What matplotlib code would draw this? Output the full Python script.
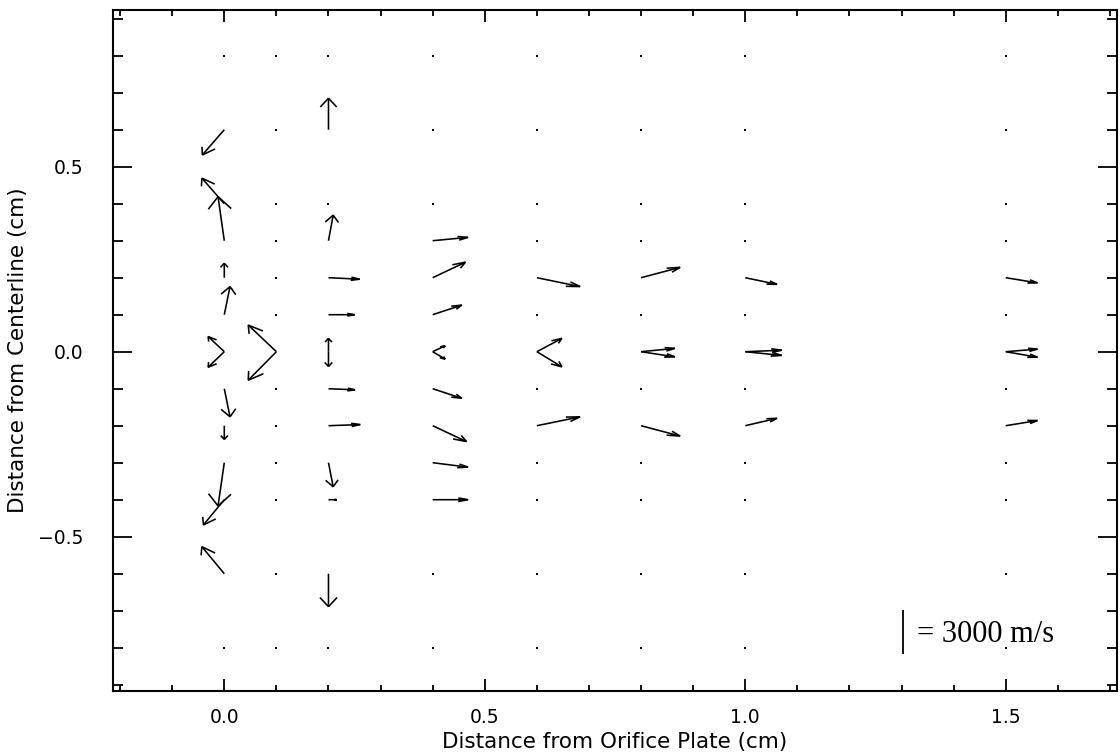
import numpy as np
import matplotlib
matplotlib.use("Agg")
import matplotlib.pyplot as plt
from matplotlib.collections import LineCollection
from matplotlib.ticker import FixedLocator, MultipleLocator, FuncFormatter

# ---------------- data ----------------
# measurement grid (cm)
x_grid = [0.0, 0.1, 0.2, 0.4, 0.6, 0.8, 1.0, 1.5]
y_grid = [-0.8, -0.6, -0.4, -0.3, -0.2, -0.1, 0.0, 0.1, 0.2, 0.3, 0.4, 0.6, 0.8]

# measured velocity vectors (m/s); centerline points carry two vectors
vec_x = ([0.0] * 12 + [0.1] * 2 + [0.2] * 11 + [0.4] * 9
         + [0.6] * 4 + [0.8] * 4 + [1.0] * 4 + [1.5] * 4)
vec_y = ([0.6, 0.4, 0.3, 0.2, 0.1, 0.0, 0.0, -0.1, -0.2, -0.3, -0.4, -0.6]
         + [0.0, 0.0]
         + [0.6, 0.3, 0.2, 0.1, 0.0, 0.0, -0.1, -0.2, -0.3, -0.4, -0.6]
         + [0.3, 0.2, 0.1, 0.0, 0.0, -0.1, -0.2, -0.3, -0.4]
         + [0.2, 0.0, 0.0, -0.2] * 4)
vec_u = ([-1050, -1075, -300, 0, 275, -775, -775, 275, 0, -300, -1000, -1075]
         + [-1350, -1350]
         + [0, 225, 1500, 1250, 0, 0, 1275, 1525, 225, 400, 0]
         + [1700, 1575, 1400, 600, 600, 1400, 1625, 1700, 1700]
         + [2075, 1200, 1200, 2075]
         + [1875, 1625, 1625, 1875]
         + [1525, 1750, 1750, 1525]
         + [1525, 1525, 1525, 1525])
vec_v = ([-1700, 1725, 2975, 975, 1900, 1025, -1050, -1900, -925, -2925, -1700, 1825]
         + [1800, -1925]
         + [2125, 1725, -100, 0, 900, -1000, -75, 75, -1625, 0, -2225]
         + [225, 1050, 650, 400, -500, -650, -1075, -300, 0]
         + [-600, 900, -1025, 600]
         + [700, 225, -350, -700]
         + [-450, 100, -250, 500]
         + [-350, 175, -375, 350])

x_ticks = [0.0, 0.5, 1.0, 1.5]
y_ticks = [-0.5, 0.0, 0.5]
ref_speed = 3000  # m/s, key bar

# ---------------- style ----------------
CM_PER_MS = 0.12 / 3000.0       # plotting scale: data units per m/s
HEAD_R = 0.3                    # IDL velovect head length fraction
HEAD_ANG = np.deg2rad(22.5)     # IDL velovect head angle
LW = 1.15

fig = plt.figure(figsize=(11.2, 7.54), dpi=100)
fig.patch.set_facecolor("white")
ax = fig.add_axes([113 / 1120, 1 - 691 / 754, (1117 - 113) / 1120, (691 - 10) / 754])
ax.set_xlim(-0.2136, 1.7135)
ax.set_ylim(-0.917, 0.9235)

# grid steps as used by IDL velovect for arrowhead shaping
xd = (x_grid[-1] - x_grid[0]) / (len(x_grid) - 1)
yd = (y_grid[-1] - y_grid[0]) / (len(y_grid) - 1)
st = HEAD_R * np.sin(HEAD_ANG)
ct = HEAD_R * np.cos(HEAD_ANG)

vx = np.array(vec_x, float)
vy = np.array(vec_y, float)
dx = np.array(vec_u, float) * CM_PER_MS
dy = np.array(vec_v, float) * CM_PER_MS
x1 = vx + dx
y1 = vy + dy
bx1 = x1 - (ct * dx / xd - st * dy / yd) * xd
by1 = y1 - (ct * dy / yd + st * dx / xd) * yd
bx2 = x1 - (ct * dx / xd + st * dy / yd) * xd
by2 = y1 - (ct * dy / yd - st * dx / xd) * yd

segs = []
for i in range(len(vx)):
    segs.append([(vx[i], vy[i]), (x1[i], y1[i]), (bx1[i], by1[i])])
    segs.append([(x1[i], y1[i]), (bx2[i], by2[i])])
ax.add_collection(LineCollection(segs, colors="black", linewidths=LW,
                                 capstyle="butt", joinstyle="miter"))

# zero-velocity grid points drawn as dots
have_vec = set(zip(np.round(vx, 3), np.round(vy, 3)))
dots = [(gx, gy) for gx in x_grid for gy in y_grid
        if (round(gx, 3), round(gy, 3)) not in have_vec]
ax.plot([d[0] for d in dots], [d[1] for d in dots], linestyle="none",
        marker="s", markersize=1.6, color="black", markeredgewidth=0)

# key bar: vertical line equal to ref_speed
bar_x, bar_y0 = 1.302, -0.817
ax.plot([bar_x, bar_x], [bar_y0, bar_y0 + ref_speed * CM_PER_MS],
        color="black", linewidth=1.3, solid_capstyle="butt")
ax.text(1.329, -0.784, f"= {ref_speed} m/s", fontsize=22,
        family=["Liberation Serif", "DejaVu Serif"], va="baseline", ha="left")

# axes styling
for sp in ax.spines.values():
    sp.set_linewidth(1.5)
ax.xaxis.set_major_locator(FixedLocator(x_ticks))
ax.xaxis.set_minor_locator(MultipleLocator(0.1))
ax.yaxis.set_major_locator(FixedLocator(y_ticks))
ax.yaxis.set_minor_locator(MultipleLocator(0.1))
fmt = FuncFormatter(lambda v, p: f"{v:.1f}".replace("-", "\u2212"))
ax.xaxis.set_major_formatter(fmt)
ax.yaxis.set_major_formatter(fmt)
ax.tick_params(axis="x", which="major", direction="in", length=8.6, width=1.3,
               top=True, labelsize=13.5, pad=12)
ax.tick_params(axis="x", which="minor", direction="in", length=4.3, width=1.3, top=True)
ax.tick_params(axis="y", which="major", direction="in", length=13.7, width=1.3,
               right=True, labelsize=13.5, pad=21)
ax.tick_params(axis="y", which="minor", direction="in", length=7.2, width=1.3, right=True)

ax.set_xlabel("Distance from Orifice Plate (cm)", fontsize=15.5)
ax.set_ylabel("Distance from Centerline (cm)", fontsize=15.5)
ax.xaxis.set_label_coords(0.5, (691 - 742) / 681)
ax.xaxis.label.set_va("center")
ax.yaxis.set_label_coords((18 - 113) / 1004, 0.5)
ax.yaxis.label.set_va("center")

fig.savefig("out.png", dpi=100, facecolor="white")
